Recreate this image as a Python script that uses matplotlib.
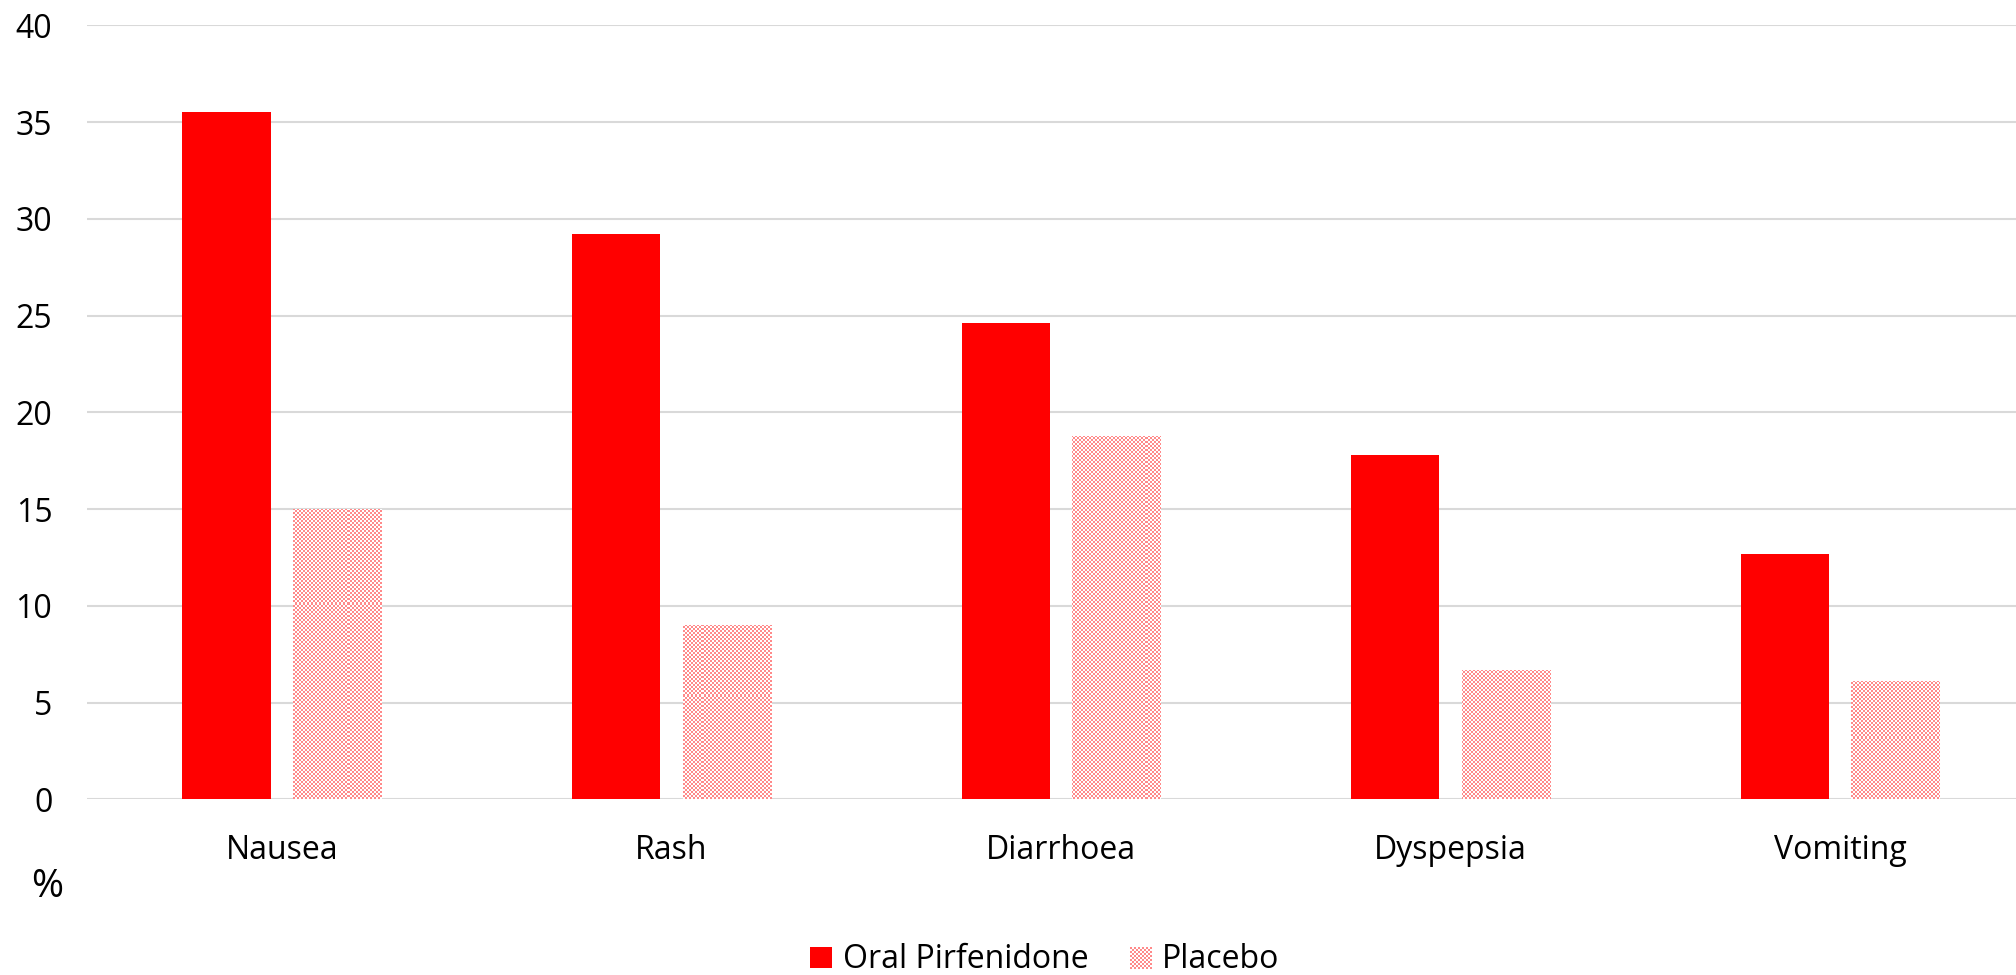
import matplotlib
matplotlib.use("Agg")
import matplotlib.pyplot as plt
import numpy as np
from matplotlib.colors import ListedColormap
from matplotlib.legend_handler import HandlerBase
from matplotlib.patches import Patch, Rectangle

plt.rcParams['font.family'] = ['Open Sans', 'DejaVu Sans']

categories = ['Nausea', 'Rash', 'Diarrhoea', 'Dyspepsia', 'Vomiting']
pirfenidone = [35.5, 29.2, 24.6, 17.8, 12.7]
placebo = [15.0, 9.0, 18.8, 6.7, 6.1]
yticks = [0, 5, 10, 15, 20, 25, 30, 35, 40]

RED = '#FF0000'
PINK = '#FF8A8A'
DPI = 100


class CheckerHandler(HandlerBase):
    # small checkerboard square for the placebo legend entry
    def legend_artist(self, legend, orig_handle, fontsize, handlebox):
        w, h = handlebox.width, handlebox.height
        cell = 2 * 72 / DPI
        n_x = int(round(w / cell))
        n_y = int(round(h / cell))
        for i in range(n_x):
            for j in range(n_y):
                if (i + j) % 2 == 0:
                    r = Rectangle((handlebox.xdescent + i * cell, handlebox.ydescent + j * cell),
                                  cell, cell, facecolor=PINK, edgecolor='none')
                    handlebox.add_artist(r)
        return handlebox


fig = plt.figure(figsize=(20.16, 9.75), dpi=DPI)
ax = fig.add_axes([87 / 2016, 1 - 799.3 / 975, 1948 / 2016, 774 / 975])

x = np.arange(len(categories))
w = 0.226
off = 0.142
ax.bar(x - off, pirfenidone, width=w, color=RED, zorder=3)
pbars = ax.bar(x + off, placebo, width=w, facecolor='none', edgecolor='none', zorder=3)

# checkerboard fill with 2px cells, clipped to each placebo bar
ny, nx = 774 // 2, 1948 // 2
checker = (np.add.outer(np.arange(ny), np.arange(nx)) % 2).astype(float)
cmap = ListedColormap(['white', PINK])
for b in pbars:
    im = ax.imshow(checker, cmap=cmap, interpolation='nearest', aspect='auto',
                   extent=(-0.5, len(categories) - 0.5, 0, 40), zorder=3, origin='lower')
    im.set_clip_path(b)

ax.set_xlim(-0.5, len(categories) - 0.5)
ax.set_ylim(0, 40)
ax.set_yticks(yticks)
ax.set_xticks(x)
ax.set_xticklabels(categories)
ax.yaxis.grid(True, color='#D9D9D9', linewidth=1.5, zorder=0)
ax.set_axisbelow(True)
for s in ax.spines.values():
    s.set_visible(False)
ax.tick_params(axis='both', length=0, labelsize=23, colors='black')
ax.tick_params(axis='y', pad=25)
ax.tick_params(axis='x', pad=25)

fig.text(31 / 2016, 1 - 887 / 975, '%', fontsize=28, ha='left', va='center')

handles = [Patch(facecolor=RED), Patch(facecolor=PINK)]
fig.legend(handles, ['Oral Pirfenidone', 'Placebo'],
           handler_map={handles[1]: CheckerHandler()},
           loc='center', bbox_to_anchor=(1045 / 2016, 1 - 960 / 975), ncol=2,
           frameon=False, fontsize=23, handlelength=0.66, handleheight=0.66,
           handletextpad=0.35, columnspacing=1.3)

fig.savefig('out.png', dpi=DPI, facecolor='white')
